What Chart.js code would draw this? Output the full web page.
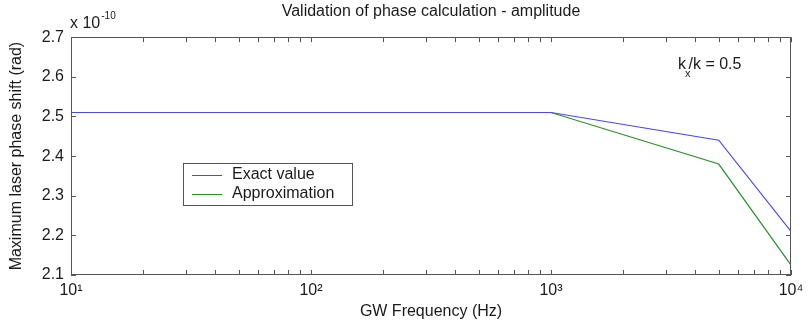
<!DOCTYPE html>
<html><head><meta charset="utf-8">
<script src="https://cdn.jsdelivr.net/npm/chart.js@4/dist/chart.umd.min.js"></script>
<style>html,body{margin:0;padding:0;background:#fff;} #wrap{width:812px;height:324px;}</style>
</head><body><div id="wrap"><canvas id="c" width="812" height="324"></canvas></div>
<script>
// ---- data ----
const frequencies = [10, 20, 50, 100, 200, 500, 1000, 5000, 10000];
const exactValue = [2.51, 2.51, 2.51, 2.51, 2.51, 2.51, 2.51, 2.44, 2.21];
const approximation = [2.51, 2.51, 2.51, 2.51, 2.51, 2.51, 2.51, 2.38, 2.125];
const seriesLabels = ['Exact value', 'Approximation'];
const yTicks = [2.1, 2.2, 2.3, 2.4, 2.5, 2.6, 2.7];
const xDecades = [10, 100, 1000, 10000];
const xMinorMultipliers = [1, 2, 3, 4, 5, 6, 7, 8, 9];
const superscripts = {1: '\u00B9', 2: '\u00B2', 3: '\u00B3', 4: '\u2074'};
const titleText = 'Validation of phase calculation - amplitude';
const xTitle = 'GW Frequency (Hz)';
const yTitle = 'Maximum laser phase shift (rad)';
const yExponentBase = 'x 10';
const yExponentPower = '-10';
const annotation = {main: 'k', sub: 'x', rest: '/k = 0.5'};

const FONT = "'Liberation Sans', Arial, sans-serif";
const TXT = '#1a1a1a';
const AXIS = '#555555';
const colors = ['#4b4be0', '#2e8f2e'];

Chart.defaults.font.family = FONT;
Chart.defaults.font.size = 16;
Chart.defaults.color = TXT;

const xTickValues = [];
xDecades.forEach((d, i) => {
  if (i === xDecades.length - 1) { xTickValues.push(d); return; }
  xMinorMultipliers.forEach(m => xTickValues.push(d * m));
});

const decorPlugin = {
  id: 'decor',
  afterDraw(chart) {
    const ctx = chart.ctx;
    const a = chart.chartArea;
    const xs = chart.scales.x, ys = chart.scales.y;
    ctx.save();
    ctx.strokeStyle = AXIS;
    ctx.lineWidth = 1;
    // box
    ctx.strokeRect(Math.round(a.left) + 0.5, Math.round(a.top) + 0.5,
                   Math.round(a.right - a.left) - 1, Math.round(a.bottom - a.top) - 1);
    // inward ticks
    const tl = 5;
    ctx.beginPath();
    xs.ticks.forEach(t => {
      const px = Math.round(xs.getPixelForValue(t.value)) + 0.5;
      ctx.moveTo(px, a.bottom); ctx.lineTo(px, a.bottom - tl);
      ctx.moveTo(px, a.top); ctx.lineTo(px, a.top + tl);
    });
    ys.ticks.forEach(t => {
      const py = Math.round(ys.getPixelForValue(t.value)) + 0.5;
      ctx.moveTo(a.left, py); ctx.lineTo(a.left + tl, py);
      ctx.moveTo(a.right, py); ctx.lineTo(a.right - tl, py);
    });
    ctx.stroke();

    // exponent label
    ctx.fillStyle = TXT;
    ctx.textBaseline = 'alphabetic';
    ctx.textAlign = 'left';
    ctx.font = '16px ' + FONT;
    ctx.fillText(yExponentBase, a.left - 1, 28);
    const w = ctx.measureText(yExponentBase).width;
    ctx.font = '10px ' + FONT;
    ctx.fillText(yExponentPower, a.left - 1 + w + 1, 19);

    // annotation k_x/k = 0.5
    ctx.font = '16px ' + FONT;
    const ax = 678, ay = 69;
    ctx.fillText(annotation.main, ax, ay);
    const kw = ctx.measureText(annotation.main).width;
    ctx.font = '11px ' + FONT;
    ctx.fillText(annotation.sub, ax + kw - 1, ay + 8);
    const sw = ctx.measureText(annotation.sub).width;
    ctx.font = '16px ' + FONT;
    ctx.fillText(annotation.rest, ax + kw + sw - 3, ay);

    // legend
    const lx = 183, ly = 163, lw = 169, lh = 42;
    ctx.fillStyle = '#ffffff';
    ctx.fillRect(lx, ly, lw, lh);
    ctx.strokeStyle = AXIS;
    ctx.strokeRect(lx + 0.5, ly + 0.5, lw, lh);
    chart.data.datasets.forEach((ds, i) => {
      const yy = ly + 12 + i * 19;
      ctx.strokeStyle = ds.borderColor;
      ctx.lineWidth = 1;
      ctx.beginPath();
      ctx.moveTo(lx + 9, yy + 0.5); ctx.lineTo(lx + 39, yy + 0.5);
      ctx.stroke();
      ctx.fillStyle = TXT;
      ctx.font = '16px ' + FONT;
      ctx.textBaseline = 'middle';
      ctx.fillText(ds.label, lx + 49, yy);
    });
    ctx.restore();
  }
};

new Chart(document.getElementById('c'), {
  type: 'line',
  data: {
    datasets: [
      { label: seriesLabels[0], data: frequencies.map((f, i) => ({x: f, y: exactValue[i]})),
        borderColor: colors[0], borderWidth: 1.2, pointRadius: 0, tension: 0, fill: false },
      { label: seriesLabels[1], data: frequencies.map((f, i) => ({x: f, y: approximation[i]})),
        borderColor: colors[1], borderWidth: 1.2, pointRadius: 0, tension: 0, fill: false }
    ]
  },
  options: {
    responsive: false,
    devicePixelRatio: 1,
    animation: false,
    layout: { padding: { left: 0, right: 21, top: 0, bottom: 0 } },
    plugins: {
      legend: { display: false },
      tooltip: { enabled: false },
      title: { display: true, text: titleText, fullSize: false, color: TXT,
               font: { size: 16, weight: 'normal' }, padding: { top: 2, bottom: 16 } }
    },
    scales: {
      x: {
        type: 'logarithmic', min: 10, max: 10000,
        afterBuildTicks: s => { s.ticks = xTickValues.map(v => ({ value: v })); },
        afterFit: s => { s.height = 49; },
        grid: { display: false, drawTicks: false, tickLength: 0 }, border: { display: false },
        ticks: {
          autoSkip: false, maxRotation: 0, minRotation: 0, padding: 6, color: TXT,
          callback: v => {
            const e = Math.log10(v);
            return Math.abs(e - Math.round(e)) < 1e-9 ? '10' + superscripts[Math.round(e)] : '';
          }
        },
        title: { display: true, text: xTitle, color: TXT, padding: { top: 0, bottom: 3 } }
      },
      y: {
        type: 'linear', min: 2.1, max: 2.7,
        afterBuildTicks: s => { s.ticks = yTicks.map(v => ({ value: v })); },
        afterFit: s => { s.width = 71; },
        grid: { display: false, drawTicks: false, tickLength: 0 }, border: { display: false },
        ticks: { padding: 7, color: TXT, callback: v => Number(v).toFixed(1) },
        title: { display: true, text: yTitle, color: TXT, padding: { top: 7, bottom: 0 } }
      }
    }
  },
  plugins: [decorPlugin]
});
</script>
</body></html>
